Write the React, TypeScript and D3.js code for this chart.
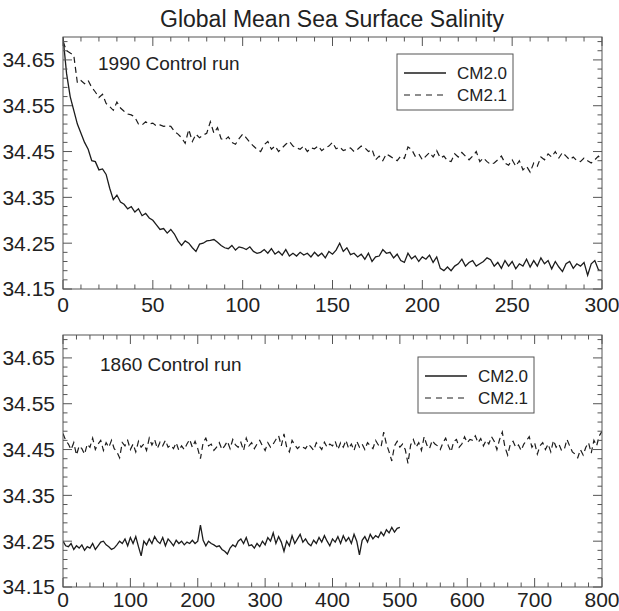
import React from "react";
import * as d3 from "d3";

const TITLE = "Global Mean Sea Surface Salinity";
const Y_TICKS = [34.15, 34.25, 34.35, 34.45, 34.55, 34.65];
const TOP_X_TICKS = [0, 50, 100, 150, 200, 250, 300];
const BOTTOM_X_TICKS = [0, 100, 200, 300, 400, 500, 600, 700, 800];
const SERIES_NAMES = ["CM2.0", "CM2.1"];

// 1990 control run, CM2.0, every 2 years from year 0
const cm20_1990 = [
  34.70, 34.62, 34.57, 34.54, 34.51, 34.49, 34.47, 34.455, 34.43, 34.428,
  34.41, 34.412, 34.40, 34.37, 34.345, 34.355, 34.34, 34.335, 34.325, 34.33,
  34.318, 34.325, 34.31, 34.315, 34.305, 34.30, 34.29, 34.28, 34.282, 34.272,
  34.28, 34.27, 34.255, 34.245, 34.255, 34.25, 34.24, 34.232, 34.248, 34.25,
  34.255, 34.256, 34.258, 34.252, 34.245, 34.24, 34.238, 34.245, 34.235, 34.242,
  34.24, 34.236, 34.242, 34.232, 34.228, 34.23, 34.236, 34.228, 34.238, 34.226,
  34.232, 34.224, 34.236, 34.222, 34.228, 34.222, 34.23, 34.224, 34.228, 34.22,
  34.23, 34.222, 34.228, 34.218, 34.232, 34.226, 34.235, 34.25, 34.232, 34.24,
  34.225, 34.228, 34.22, 34.226, 34.215, 34.228, 34.21, 34.22, 34.222, 34.236,
  34.228, 34.23, 34.218, 34.226, 34.212, 34.208, 34.228, 34.216, 34.222, 34.21,
  34.22, 34.215, 34.224, 34.208, 34.22, 34.195, 34.19, 34.198, 34.19, 34.2,
  34.205, 34.215, 34.2, 34.208, 34.212, 34.2, 34.205, 34.21, 34.218, 34.214,
  34.2, 34.208, 34.195, 34.212, 34.2, 34.21, 34.194, 34.205, 34.2, 34.215,
  34.198, 34.212, 34.2, 34.218, 34.205, 34.212, 34.194, 34.21, 34.198, 34.188,
  34.205, 34.21, 34.195, 34.205, 34.2, 34.208, 34.18, 34.205, 34.212, 34.192,
  34.19,
];

// 1990 control run, CM2.1, every 2 years from year 0
const cm21_1990 = [
  34.69, 34.67, 34.665, 34.66, 34.60, 34.605, 34.598, 34.605, 34.59, 34.58,
  34.568, 34.575, 34.555, 34.548, 34.54, 34.558, 34.545, 34.538, 34.532, 34.53,
  34.525, 34.51, 34.508, 34.515, 34.51, 34.512, 34.506, 34.508, 34.505, 34.506,
  34.505, 34.494, 34.488, 34.48, 34.468, 34.498, 34.472, 34.488, 34.48, 34.486,
  34.49, 34.515, 34.49, 34.502, 34.478, 34.475, 34.482, 34.47, 34.466, 34.478,
  34.488, 34.48, 34.47, 34.462, 34.455, 34.45, 34.465, 34.472, 34.455, 34.462,
  34.45, 34.458, 34.466, 34.472, 34.462, 34.458, 34.455, 34.462, 34.45, 34.458,
  34.456, 34.462, 34.452, 34.458, 34.462, 34.47, 34.456, 34.46, 34.452, 34.455,
  34.458, 34.45, 34.455, 34.462, 34.458, 34.45, 34.455, 34.432, 34.44, 34.43,
  34.445, 34.44, 34.435, 34.43, 34.44, 34.435, 34.46, 34.455, 34.44, 34.445,
  34.432, 34.44, 34.448, 34.438, 34.452, 34.436, 34.44, 34.43, 34.428, 34.445,
  34.438, 34.448, 34.44, 34.432, 34.44, 34.45, 34.428, 34.436, 34.428, 34.422,
  34.425, 34.432, 34.44, 34.425, 34.42, 34.432, 34.418, 34.43, 34.41, 34.418,
  34.405, 34.425, 34.418, 34.438, 34.432, 34.445, 34.438, 34.45, 34.436, 34.448,
  34.44, 34.432, 34.438, 34.43, 34.428, 34.436, 34.43, 34.425, 34.432, 34.44,
  34.43,
];

// 1860 control run, CM2.0, every 4 years from year 0
const cm20_1860 = [
  34.25, 34.24, 34.238, 34.245, 34.232, 34.24, 34.235, 34.242, 34.23, 34.238,
  34.235, 34.245, 34.232, 34.24, 34.248, 34.25, 34.242, 34.238, 34.232, 34.235,
  34.242, 34.25, 34.245, 34.255, 34.24, 34.258, 34.245, 34.26, 34.238, 34.218,
  34.25, 34.242, 34.255, 34.245, 34.26, 34.25, 34.245, 34.258, 34.24, 34.255,
  34.248, 34.24, 34.252, 34.245, 34.25, 34.242, 34.248, 34.245, 34.252, 34.245,
  34.25, 34.285, 34.252, 34.24, 34.25, 34.245, 34.242, 34.238, 34.24, 34.232,
  34.228, 34.222, 34.235, 34.242, 34.238, 34.25, 34.255, 34.245, 34.258, 34.24,
  34.242, 34.235, 34.245, 34.238, 34.25, 34.242, 34.258, 34.25, 34.268, 34.245,
  34.26, 34.248, 34.228, 34.25, 34.24, 34.262, 34.245, 34.255, 34.265, 34.248,
  34.255, 34.245, 34.24, 34.252, 34.245, 34.258, 34.248, 34.262, 34.25, 34.24,
  34.255, 34.248, 34.26, 34.245, 34.262, 34.25, 34.258, 34.245, 34.265, 34.25,
  34.22, 34.252, 34.26, 34.248, 34.265, 34.255, 34.262, 34.258, 34.27, 34.262,
  34.275, 34.268, 34.28, 34.27, 34.278, 34.28,
];

// 1860 control run, CM2.1, every 4 years from year 0
const cm21_1860 = [
  34.485, 34.47, 34.462, 34.45, 34.465, 34.438, 34.458, 34.452, 34.44, 34.462,
  34.455, 34.475, 34.45, 34.462, 34.47, 34.448, 34.465, 34.455, 34.47, 34.452,
  34.445, 34.432, 34.465, 34.458, 34.47, 34.45, 34.462, 34.445, 34.468, 34.455,
  34.462, 34.448, 34.475, 34.46, 34.472, 34.452, 34.466, 34.458, 34.47, 34.455,
  34.46, 34.452, 34.465, 34.448, 34.458, 34.45, 34.462, 34.472, 34.455, 34.468,
  34.452, 34.43, 34.465, 34.475, 34.458, 34.462, 34.448, 34.455, 34.465, 34.45,
  34.458, 34.468, 34.452, 34.472, 34.46, 34.455, 34.466, 34.448, 34.475, 34.458,
  34.465, 34.452, 34.462, 34.47, 34.458, 34.448, 34.465, 34.455, 34.462, 34.472,
  34.48, 34.458, 34.484, 34.455, 34.445, 34.47, 34.46, 34.452, 34.458, 34.455,
  34.452, 34.462, 34.456, 34.448, 34.465, 34.458, 34.45, 34.466, 34.455, 34.462,
  34.458, 34.468, 34.45, 34.465, 34.455, 34.47, 34.452, 34.462, 34.448, 34.468,
  34.455, 34.462, 34.45, 34.465, 34.458, 34.452, 34.47, 34.46, 34.455, 34.488,
  34.462, 34.445, 34.425, 34.458, 34.468, 34.455, 34.462, 34.45, 34.42, 34.46,
  34.472, 34.455, 34.465, 34.448, 34.478, 34.46, 34.452, 34.47, 34.462, 34.458,
  34.45, 34.465, 34.475, 34.458, 34.445, 34.468, 34.472, 34.455, 34.462, 34.478,
  34.465, 34.472, 34.47, 34.48, 34.465, 34.474, 34.458, 34.47, 34.462, 34.478,
  34.468, 34.45, 34.472, 34.488, 34.455, 34.438, 34.462, 34.468, 34.455, 34.46,
  34.448, 34.462, 34.47, 34.478, 34.455, 34.465, 34.44, 34.458, 34.465, 34.45,
  34.462, 34.445, 34.47, 34.455, 34.462, 34.448, 34.45, 34.472, 34.458, 34.445,
  34.44, 34.432, 34.45, 34.438, 34.455, 34.465, 34.442, 34.47, 34.458, 34.48,
  34.49,
];

const FONT = "'Liberation Sans', Arial, Helvetica, sans-serif";
const AXIS = "#555";
const INK = "#1c1c1c";

type PanelProps = {
  top: number;
  xMax: number;
  xTicks: number[];
  xMinorStep: number;
  xLabelGap: number;
  solid: number[];
  solidStep: number;
  dashed: number[];
  dashedStep: number;
  label: string;
  labelX: number;
  labelY: number;
  legendX: number;
  legendY: number;
};

function Panel(p: PanelProps) {
  const left = 63, right = 602, height = 252;
  const bottom = p.top + height;
  const x = d3.scaleLinear().domain([0, p.xMax]).range([left, right]);
  const y = d3.scaleLinear().domain([34.15, 34.70]).range([bottom, p.top]);
  const line = d3
    .line<[number, number]>()
    .x((d) => x(d[0]))
    .y((d) => y(d[1]));
  const solidPts = p.solid.map((v, i) => [i * p.solidStep, v] as [number, number]);
  const dashedPts = p.dashed.map((v, i) => [i * p.dashedStep, v] as [number, number]);
  const xMinor = d3.range(0, p.xMax + 0.001, p.xMinorStep).filter((v) => !p.xTicks.includes(v));
  const yMinor = d3.range(34.17, 34.70, 0.02).filter((v) => !Y_TICKS.some((t) => Math.abs(t - v) < 1e-6));
  const clipId = `clip-${p.top}`;
  return (
    <g>
      <defs>
        <clipPath id={clipId}>
          <rect x={left} y={p.top} width={right - left} height={height} />
        </clipPath>
      </defs>
      <g clipPath={`url(#${clipId})`}>
        <path d={line(dashedPts) || ""} fill="none" stroke={INK} strokeWidth={1.2} strokeDasharray="6,4" />
        <path d={line(solidPts) || ""} fill="none" stroke={INK} strokeWidth={1.3} />
      </g>
      <rect x={left} y={p.top} width={right - left} height={height} fill="none" stroke={AXIS} strokeWidth={1} />
      {p.xTicks.map((t) => (
        <g key={`xt${t}`} stroke={AXIS}>
          <line x1={x(t)} x2={x(t)} y1={bottom} y2={bottom - 9} />
          <line x1={x(t)} x2={x(t)} y1={p.top} y2={p.top + 9} />
        </g>
      ))}
      {xMinor.map((t) => (
        <g key={`xm${t}`} stroke={AXIS}>
          <line x1={x(t)} x2={x(t)} y1={bottom} y2={bottom - 4.5} />
          <line x1={x(t)} x2={x(t)} y1={p.top} y2={p.top + 4.5} />
        </g>
      ))}
      {Y_TICKS.map((t) => (
        <g key={`yt${t}`} stroke={AXIS}>
          <line x1={left} x2={left + 9} y1={y(t)} y2={y(t)} />
          <line x1={right} x2={right - 9} y1={y(t)} y2={y(t)} />
        </g>
      ))}
      {yMinor.map((t) => (
        <g key={`ym${t}`} stroke={AXIS}>
          <line x1={left} x2={left + 4.5} y1={y(t)} y2={y(t)} />
          <line x1={right} x2={right - 4.5} y1={y(t)} y2={y(t)} />
        </g>
      ))}
      {p.xTicks.map((t) => (
        <text key={`xl${t}`} x={x(t)} y={bottom + p.xLabelGap} textAnchor="middle" fontSize={21} fill="#222" fontFamily={FONT}>
          {t}
        </text>
      ))}
      {Y_TICKS.map((t) => (
        <text key={`yl${t}`} x={55} y={y(t)} dy="0.35em" textAnchor="end" fontSize={21} fill="#222" fontFamily={FONT}>
          {t.toFixed(2)}
        </text>
      ))}
      <text x={p.labelX} y={p.labelY} fontSize={19} fill="#222" fontFamily={FONT}>
        {p.label}
      </text>
      <g transform={`translate(${p.legendX},${p.legendY})`}>
        <rect x={0} y={0} width={116} height={56} fill="white" stroke={AXIS} strokeWidth={1} />
        <line x1={7} x2={49} y1={19} y2={19} stroke={INK} strokeWidth={1.3} />
        <line x1={7} x2={49} y1={41} y2={41} stroke={INK} strokeWidth={1.2} strokeDasharray="6,5" />
        <text x={60} y={19} dy="0.35em" fontSize={17} fill="#222" fontFamily={FONT}>
          {SERIES_NAMES[0]}
        </text>
        <text x={60} y={41} dy="0.35em" fontSize={17} fill="#222" fontFamily={FONT}>
          {SERIES_NAMES[1]}
        </text>
      </g>
    </g>
  );
}

export default function App() {
  return (
    <svg
      width={619}
      height={611}
      style={{ position: "absolute", left: 0, top: 0, background: "white" }}
    >
      <rect x={0} y={0} width={619} height={611} fill="white" />
      <text x={332} y={27} textAnchor="middle" fontSize={23} fill="#222" fontFamily={FONT}>
        {TITLE}
      </text>
      <Panel
        top={37}
        xMax={300}
        xTicks={TOP_X_TICKS}
        xMinorStep={10}
        xLabelGap={23}
        solid={cm20_1990}
        solidStep={2}
        dashed={cm21_1990}
        dashedStep={2}
        label="1990 Control run"
        labelX={98}
        labelY={70}
        legendX={397}
        legendY={54}
      />
      <Panel
        top={335}
        xMax={800}
        xTicks={BOTTOM_X_TICKS}
        xMinorStep={20}
        xLabelGap={20}
        solid={cm20_1860}
        solidStep={4}
        dashed={cm21_1860}
        dashedStep={4}
        label="1860 Control run"
        labelX={100}
        labelY={371}
        legendX={418}
        legendY={357}
      />
    </svg>
  );
}
